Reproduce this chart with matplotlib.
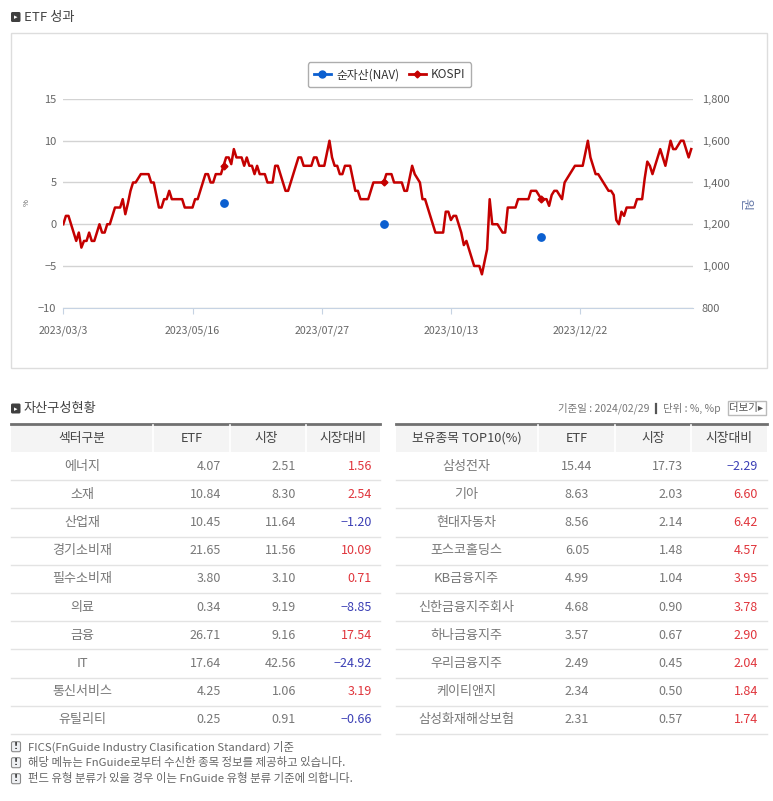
import matplotlib
matplotlib.use("Agg")
import matplotlib.pyplot as plt
from matplotlib.patches import Rectangle, FancyBboxPatch
from matplotlib.lines import Line2D

plt.rcParams['font.family'] = ['Noto Sans CJK KR', 'DejaVu Sans']

# ---- chart data (return in %, one value per trading day) ----
kospi_ret = [
    0, 1, 1, 0, -1, -2, -1, -2.8, -2, -2,
    -1, -2, -2, -1, 0, -1, -1, 0, 0, 1,
    2, 2, 2, 3, 1.2, 2.5, 4, 5, 5, 5.5,
    6, 6, 6, 6, 5, 5, 3.5, 2, 2, 3,
    3, 4, 3, 3, 3, 3, 3, 2, 2, 2,
    2, 3, 3, 4, 5, 6, 6, 5, 5, 6,
    6, 6, 7, 8, 8, 7.2, 9, 8, 8, 8,
    7, 8, 7, 7, 6, 7, 6, 6, 6, 5,
    5, 5, 7, 7, 6, 5, 4, 4, 5, 6,
    7, 8, 8, 7, 7, 7, 7, 8, 8, 7,
    7, 7, 8.5, 10, 8, 7, 7, 6, 6, 7,
    7, 7, 5.5, 4, 4, 3, 3, 3, 3, 4,
    5, 5, 5, 5, 5, 6, 6, 6, 5, 5,
    5, 5, 4, 4, 5.5, 7, 6, 5.5, 5, 3,
    3, 2, 1, 0, -1, -1, -1, -1, 1.5, 1.5,
    0.5, 1, 1, 0, -1, -2.5, -2, -3, -4, -5,
    -5, -5, -6, -4.5, -3, 3, 0, 0, 0, -0.5,
    -1, -1, 2, 2, 2, 2, 3, 3, 3, 3,
    3, 4, 4, 4, 3.5, 3, 3, 3, 2.2, 3.5,
    4, 4, 3.5, 3, 5, 5.5, 6, 6.5, 7, 7,
    7, 7, 8.5, 10, 8, 7, 6, 6, 5.5, 5,
    4.5, 4, 4, 3.5, 0.5, 0, 1.5, 1, 2, 2,
    2, 2, 3, 3, 3, 5.5, 7.5, 7, 6, 7,
    8, 9, 8, 7, 8.5, 10, 9, 9, 9.5, 10,
    10, 9, 8, 9,
]
nav_idx = [62, 124, 185]
nav_ret = [2.6, 0.0, -1.5]
date_idx = [0, 50, 100, 150, 200]
date_labels = ['2023/03/3', '2023/05/16', '2023/07/27', '2023/10/13', '2023/12/22']
pct_ticks = [-10, -5, 0, 5, 10, 15]
won_ticks = [800, 1000, 1200, 1400, 1600, 1800]

# ---- table data ----
sectors = ['에너지', '소재', '산업재', '경기소비재', '필수소비재', '의료', '금융', 'IT', '통신서비스', '유틸리티']
sector_etf = [4.07, 10.84, 10.45, 21.65, 3.80, 0.34, 26.71, 17.64, 4.25, 0.25]
sector_mkt = [2.51, 8.30, 11.64, 11.56, 3.10, 9.19, 9.16, 42.56, 1.06, 0.91]
sector_diff = [1.56, 2.54, -1.20, 10.09, 0.71, -8.85, 17.54, -24.92, 3.19, -0.66]

holdings = ['삼성전자', '기아', '현대자동차', '포스코홀딩스', 'KB금융지주', '신한금융지주회사',
            '하나금융지주', '우리금융지주', '케이티앤지', '삼성화재해상보험']
hold_etf = [15.44, 8.63, 8.56, 6.05, 4.99, 4.68, 3.57, 2.49, 2.34, 2.31]
hold_mkt = [17.73, 2.03, 2.14, 1.48, 1.04, 0.90, 0.67, 0.45, 0.50, 0.57]
hold_diff = [-2.29, 6.60, 6.42, 4.57, 3.95, 3.78, 2.90, 2.04, 1.84, 1.74]

notes = ['FICS(FnGuide Industry Clasification Standard) 기준',
         '해당 메뉴는 FnGuide로부터 수신한 종목 정보를 제공하고 있습니다.',
         '펀드 유형 분류가 있을 경우 이는 FnGuide 유형 분류 기준에 의합니다.']

RED = '#c40000'
BLUE = '#0b5fd0'
W, H = 773, 801

fig = plt.figure(figsize=(W / 100, H / 100), dpi=100)
fig.patch.set_facecolor('white')

# overlay in pixel coordinates for boxes / tables / texts
ov = fig.add_axes([0, 0, 1, 1])
ov.set_xlim(0, W)
ov.set_ylim(H, 0)
ov.axis('off')


def section_icon(x, y):
    ov.add_patch(FancyBboxPatch((x, y), 9.5, 10, boxstyle='round,pad=0,rounding_size=1.5',
                                fc='#3f3f3f', ec='none'))
    ov.text(x + 4.9, y + 5.2, '▸', color='white', fontsize=5, ha='center', va='center',
            family=['DejaVu Sans'])


# ---- section 1: ETF 성과 ----
section_icon(11, 12)
ov.text(24, 17.5, 'ETF 성과', fontsize=9.5, color='#444444', va='center', ha='left')
ov.add_patch(Rectangle((11, 33), 756, 335, fill=False, ec='#dddddd', lw=1))

ax = fig.add_axes([63.3 / W, 1 - 307.7 / H, 630 / W, 208.7 / H])
ax.set_facecolor('none')
ax.set_xlim(0, 243.8)
ax.set_ylim(-10, 15)
ax.set_yticks(pct_ticks)
ax.yaxis.grid(True, color='#d3d3d3', lw=1)
ax.set_axisbelow(True)
for s in ['top', 'left', 'right']:
    ax.spines[s].set_visible(False)
ax.spines['bottom'].set_color('#c6d3e3')
ax.tick_params(axis='y', length=0, pad=5, labelsize=8, labelcolor='#666666')
ax.set_xticks(date_idx)
ax.set_xticklabels(date_labels)
ax.tick_params(axis='x', length=4, color='#c6d3e3', pad=9, labelsize=7.6, labelcolor='#666666')

ax.plot(range(len(kospi_ret)), kospi_ret, color=RED, lw=1.8, marker='D', ms=3.5,
        markevery=nav_idx, zorder=3)
ax.scatter(nav_idx, nav_ret, color=BLUE, s=28, zorder=4)

ax2 = ax.twinx()
ax2.set_ylim(800, 1800)
ax2.set_yticks(won_ticks)
ax2.set_yticklabels([f'{v:,}' for v in won_ticks])
for s in ax2.spines.values():
    s.set_visible(False)
ax2.tick_params(axis='y', length=0, pad=6, labelsize=8, labelcolor='#666666')

ov.text(27, 203, '%', fontsize=5.5, color='#555555', rotation=90, ha='center', va='center')
ov.text(745, 204, '원', fontsize=9.5, color='#6578a8', rotation=270, ha='center', va='center')

handles = [Line2D([], [], color=BLUE, marker='o', ms=5, lw=2),
           Line2D([], [], color=RED, marker='D', ms=3.5, lw=2)]
leg = fig.legend(handles, ['순자산(NAV)', 'KOSPI'], loc='center',
                 bbox_to_anchor=(389.5 / W, 1 - 74.7 / H), ncol=2, fontsize=8.5,
                 frameon=True, fancybox=True, edgecolor='#999999', handlelength=1.5,
                 columnspacing=0.8, handletextpad=0.4, borderpad=0.5)
leg.get_frame().set_linewidth(1)
for t in leg.get_texts():
    t.set_color('#333333')

# ---- section 2: 자산구성현황 ----
section_icon(11, 403.5)
ov.text(24, 408.5, '자산구성현황', fontsize=9.5, color='#444444', va='center', ha='left')
ov.text(649, 408.5, '기준일 : 2024/02/29', fontsize=7.5, color='#777777', va='center', ha='right')
ov.plot([656, 656], [404, 413], color='#555555', lw=1.6)
ov.text(663, 408.5, '단위 : %, %p', fontsize=7.5, color='#777777', va='center', ha='left')
ov.add_patch(Rectangle((728, 400.5), 38, 14.5, fill=False, ec='#bbbbbb', lw=1))
ov.text(746, 408, '더보기▸', fontsize=7.5, color='#555555', va='center', ha='center',
        family=['Noto Sans CJK KR', 'DejaVu Sans'])

HDR_TOP, HDR_BOT, ROW_H = 424, 452, 28.2


def fmt(v):
    return f'{v:.2f}'.replace('-', '−')


def draw_table(x0, x1, seps, headers, hcenters, names, name_x, cols):
    ov.add_patch(Rectangle((x0, HDR_TOP), x1 - x0, HDR_BOT - HDR_TOP, fc='#f4f4f4', ec='none'))
    ov.plot([x0, x1], [HDR_TOP, HDR_TOP], color='#707070', lw=2)
    for sx in seps:
        ov.plot([sx, sx], [HDR_TOP + 1, HDR_BOT], color='white', lw=1.2)
    for h, hx in zip(headers, hcenters):
        ov.text(hx, (HDR_TOP + HDR_BOT) / 2 + 0.5, h, fontsize=9.2, color='#444444',
                ha='center', va='center')
    for i, name in enumerate(names):
        yc = HDR_BOT + ROW_H * (i + 0.5)
        ov.plot([x0, x1], [HDR_BOT + ROW_H * (i + 1)] * 2, color='#e3e3e3', lw=1)
        ov.text(name_x, yc, name, fontsize=9.4, color='#777777', ha='center', va='center')
        for vals, cx, align, colored in cols:
            v = vals[i]
            color = '#777777'
            if colored:
                color = '#e0353c' if v > 0 else '#3b3fb5'
            ov.text(cx, yc, fmt(v), fontsize=9, color=color, ha=align, va='center')


draw_table(11, 380, [152.5, 230, 306],
           ['섹터구분', 'ETF', '시장', '시장대비'], [82, 192, 266, 343],
           sectors, 82,
           [(sector_etf, 221, 'right', False),
            (sector_mkt, 296, 'right', False),
            (sector_diff, 372, 'right', True)])

draw_table(396, 767, [538, 615, 691],
           ['보유종목 TOP10(%)', 'ETF', '시장', '시장대비'], [467, 577, 653, 729],
           holdings, 466,
           [(hold_etf, 577, 'center', False),
            (hold_mkt, 683, 'right', False),
            (hold_diff, 758, 'right', True)])

# ---- footnotes ----
for k, note in enumerate(notes):
    yc = 746.7 + 16 * k
    ov.add_patch(FancyBboxPatch((11.5, yc - 5), 9, 10, boxstyle='round,pad=0,rounding_size=1.5',
                                fc='#eef0f3', ec='#8a8a8a', lw=0.8))
    ov.text(16, yc, '!', fontsize=6.5, color='#333333', ha='center', va='center',
            fontweight='bold', family=['DejaVu Sans'])
    ov.text(28, yc, note, fontsize=8.2, color='#666666', ha='left', va='center')

fig.savefig('out.png', dpi=100)
